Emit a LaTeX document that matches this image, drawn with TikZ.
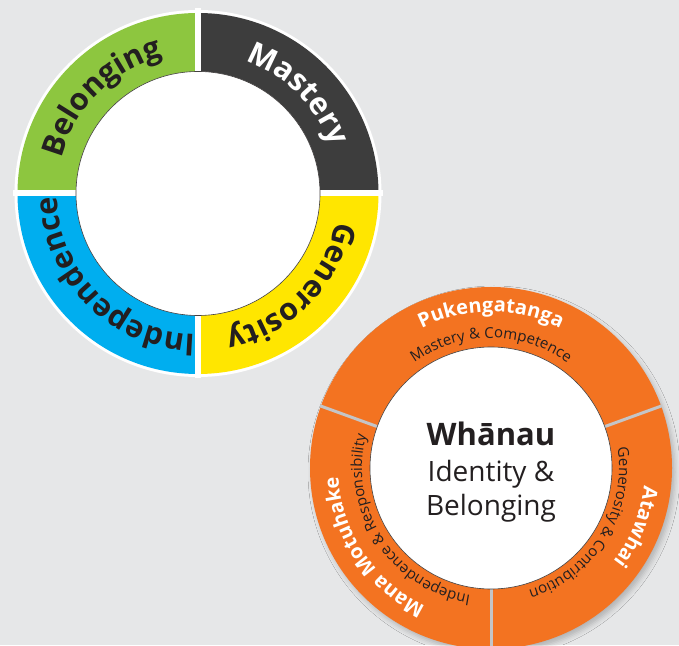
\documentclass[tikz,border=0pt]{standalone}
\usepackage{fontspec}
\setmainfont{Open Sans}
\usetikzlibrary{decorations.text,shadows.blur}

\definecolor{bg}{HTML}{E6E7E8}
\definecolor{leafgreen}{HTML}{8DC63F}
\definecolor{charcoal}{HTML}{3D3D3D}
\definecolor{sunyellow}{HTML}{FFE600}
\definecolor{skyblue}{HTML}{00AEEF}
\definecolor{kowhai}{HTML}{F37321}
\definecolor{rimgrey}{HTML}{C4C5C7}
\definecolor{ink}{HTML}{231F20}

\newcommand\ringbig{\fontsize{30.5}{30}\selectfont\bfseries}
\newcommand\ringmid{\fontsize{20}{20}\selectfont\bfseries}
\newcommand\ringsmall{\fontsize{15}{15}\selectfont}

\begin{document}
\begin{tikzpicture}[x=1pt, y=1pt]
  \tikzstyle{ringtext} = [decorate, decoration={text along path, text align=center}]
  \tikzstyle{gap} = [white, line width=6pt]
  \tikzstyle{spoke} = [rimgrey, line width=3pt]
  \tikzstyle{hub} = [fill=white, draw=ink!85, line width=0.6pt]

  \clip (0,0) rectangle (679,645);
  \fill[bg] (0,0) rectangle (679,645);

  \coordinate (c1) at (198,451.5);
  \coordinate (c2) at (491,177);

  % Four qualities ring
  \begin{scope}[shift={(c1)}]
    \fill[white] (0,0) circle[radius=183.5];
    \fill[leafgreen] (0,0) -- (90:180.5) arc[start angle=90, end angle=180, radius=180.5] -- cycle;
    \fill[charcoal] (0,0) -- (0:180.5) arc[start angle=0, end angle=90, radius=180.5] -- cycle;
    \fill[sunyellow] (0,0) -- (270:180.5) arc[start angle=270, end angle=360, radius=180.5] -- cycle;
    \fill[skyblue] (0,0) -- (180:180.5) arc[start angle=180, end angle=270, radius=180.5] -- cycle;
    \draw[gap] (-185,0) -- (185,0);
    \draw[gap] (0,-185) -- (0,185);
    \draw[hub] (0,0) circle[radius=122];

    \path[ringtext, decoration={text={|\ringbig|Belonging}, text color=ink}]
      (210:141) arc[start angle=210, end angle=60, radius=141];
    \path[ringtext, decoration={text={|\ringbig|Mastery}, text color=white}]
      (120:141) arc[start angle=120, end angle=-30, radius=141];
    \path[ringtext, decoration={text={|\ringbig|Generosity}, text color=ink}]
      (30:141) arc[start angle=30, end angle=-120, radius=141];
    \path[ringtext, decoration={text={|\ringbig|Independence}, text color=ink}]
      (-60:141) arc[start angle=-60, end angle=-210, radius=141];
  \end{scope}

  % Whanau ring
  \begin{scope}[shift={(c2)}]
    \fill[kowhai, blur shadow={shadow xshift=3pt, shadow yshift=-4pt,
      shadow blur radius=5pt, shadow opacity=22}] (0,0) circle[radius=181];
    \draw[spoke] (20:120) -- (20:182);
    \draw[spoke] (160:120) -- (160:182);
    \draw[spoke] (270:120) -- (270:182);
    \draw[hub] (0,0) circle[radius=121];

    \path[ringtext, decoration={text={|\ringmid|Pukengatanga}, text color=white}]
      (170:156) arc[start angle=170, end angle=10, radius=156];
    \path[ringtext, decoration={text={|\ringsmall|Mastery {\&} Competence}, text color=ink}]
      (175:130) arc[start angle=175, end angle=5, radius=130];
    \path[ringtext, decoration={text={|\ringmid|Atawhai}, text color=white}]
      (50:154) arc[start angle=50, end angle=-94, radius=154];
    \path[ringtext, decoration={text={|\ringsmall|Generosity {\&} Contribution}, text color=ink}]
      (60:128) arc[start angle=60, end angle=-124, radius=128];
    \path[ringtext, decoration={text={|\ringmid|Mana Motuhake}, text color=white}]
      (-70:153) arc[start angle=-70, end angle=-222, radius=153];
    \path[ringtext, decoration={text={|\ringsmall|Independence {\&} Responsibility}, text color=ink}]
      (-57:129) arc[start angle=-57, end angle=-237, radius=129];
  \end{scope}

  % Centre text
  \node[anchor=base, text=ink, font=\fontsize{31}{31}\selectfont\bfseries] (whanau) at (491,199.3) {Whānau};
  \node[anchor=base, text=ink, font=\fontsize{28}{28}\selectfont] (identity) at (491,163.3) {Identity \&};
  \node[anchor=base, text=ink, font=\fontsize{28}{28}\selectfont] (belonging) at (491,130) {Belonging};
\end{tikzpicture}
\end{document}
